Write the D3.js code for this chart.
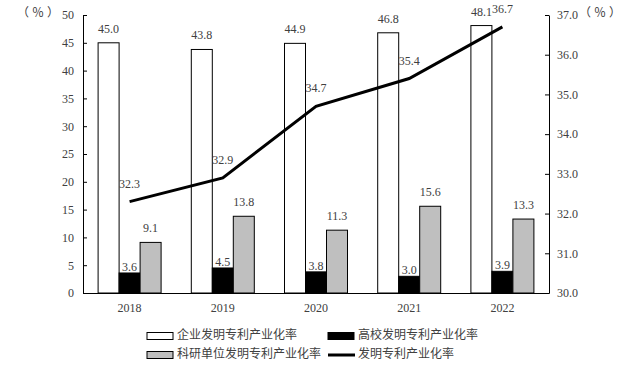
<!DOCTYPE html>
<html>
<head>
<meta charset="utf-8">
<script src="https://cdn.jsdelivr.net/npm/d3@7/dist/d3.min.js"></script>
<style>
  html, body { margin: 0; padding: 0; background: #fff; }
  svg { display: block; }
</style>
</head>
<body>
<svg id="chart"></svg>
<script>
/* ── data ── */
const YEARS      = ['2018', '2019', '2020', '2021', '2022'];
const ENTERPRISE = [45.0, 43.8, 44.9, 46.8, 48.1];
const UNIVERSITY = [3.6, 4.5, 3.8, 3.0, 3.9];
const INSTITUTE  = [9.1, 13.8, 11.3, 15.6, 13.3];
const OVERALL    = [32.3, 32.9, 34.7, 35.4, 36.7];

const LEFT_TICKS  = [0, 5, 10, 15, 20, 25, 30, 35, 40, 45, 50];
const RIGHT_TICKS = [30, 31, 32, 33, 34, 35, 36, 37];

const SERIES_NAMES = ['企业发明专利产业化率', '高校发明专利产业化率',
                      '科研单位发明专利产业化率', '发明专利产业化率'];

const W = 644, H = 376;
const NUM_FONT = '"Liberation Serif", "Times New Roman", serif';
const CJK_FONT = '"Noto Sans CJK SC", sans-serif';
const TXT = '#404040';
const GRAY = '#bfbfbf';

const svg = d3.select('#chart').attr('width', W).attr('height', H);

const plot = { left: 83, right: 549, top: 15, bottom: 293 };

/* ── scales ── */
const x = d3.scaleBand().domain(YEARS).range([plot.left, plot.right]);
const bw = 21;
const yL = d3.scaleLinear().domain([0, 50]).range([plot.bottom, plot.top]);
const yR = d3.scaleLinear().domain([30, 37]).range([plot.bottom, plot.top]);
const cx = d => x(d) + x.bandwidth() / 2;

/* ── axes ── */
svg.append('g')
  .attr('transform', `translate(${plot.left},0)`)
  .call(d3.axisLeft(yL).tickValues(LEFT_TICKS).tickSize(-4).tickSizeOuter(0).tickPadding(9))
  .call(ax => ax.selectAll('.domain,.tick line').attr('stroke', '#000'))
  .call(ax => ax.selectAll('.tick text').attr('fill', TXT).attr('font-size', 12).attr('font-family', NUM_FONT));

svg.append('g')
  .attr('transform', `translate(${plot.right},0)`)
  .call(d3.axisRight(yR).tickValues(RIGHT_TICKS).tickSize(-4).tickSizeOuter(0).tickPadding(8)
    .tickFormat(d3.format('.1f')))
  .call(ax => ax.selectAll('.domain,.tick line').attr('stroke', '#000'))
  .call(ax => ax.selectAll('.tick text').attr('fill', TXT).attr('font-size', 12).attr('font-family', NUM_FONT));

svg.append('g')
  .attr('transform', `translate(0,${plot.bottom})`)
  .call(d3.axisBottom(x).tickSize(0).tickPadding(10))
  .call(ax => ax.select('.domain').attr('stroke', '#000'))
  .call(ax => ax.selectAll('.tick text').attr('fill', TXT).attr('font-size', 12).attr('font-family', NUM_FONT));

/* ── unit labels ── */
[17, 579].forEach(ux => {
  svg.append('text').attr('x', ux).attr('y', 17)
    .attr('font-family', CJK_FONT).attr('font-size', 12).attr('letter-spacing', 3)
    .attr('fill', TXT).text('（％）');
});

/* ── bars ── */
const barSeries = [
  { vals: ENTERPRISE, off: -1.5, fill: '#fff', lab: 10 },
  { vals: UNIVERSITY, off: -0.5, fill: '#000', lab: 2 },
  { vals: INSTITUTE,  off:  0.5, fill: GRAY,   lab: 10 },
];

barSeries.forEach(s => {
  svg.append('g').selectAll('rect')
    .data(YEARS)
    .join('rect')
    .attr('x', d => cx(d) + s.off * bw)
    .attr('y', (d, i) => yL(s.vals[i]))
    .attr('width', bw)
    .attr('height', (d, i) => plot.bottom - yL(s.vals[i]))
    .attr('fill', s.fill)
    .attr('stroke', '#000')
    .attr('stroke-width', 1);
});

barSeries.forEach(s => {
  svg.append('g').selectAll('text')
    .data(YEARS)
    .join('text')
    .attr('x', d => cx(d) + (s.off + 0.5) * bw)
    .attr('y', (d, i) => yL(s.vals[i]) - s.lab)
    .attr('text-anchor', 'middle')
    .attr('font-family', NUM_FONT)
    .attr('font-size', 12)
    .attr('fill', TXT)
    .text((d, i) => s.vals[i].toFixed(1));
});

/* ── overall line ── */
const line = d3.line()
  .x((d, i) => cx(YEARS[i]))
  .y(d => yR(d));

svg.append('path')
  .datum(OVERALL)
  .attr('d', line)
  .attr('fill', 'none')
  .attr('stroke', '#000')
  .attr('stroke-width', 3);

svg.append('g').selectAll('text')
  .data(OVERALL)
  .join('text')
  .attr('x', (d, i) => cx(YEARS[i]))
  .attr('y', d => yR(d) - 14)
  .attr('text-anchor', 'middle')
  .attr('font-family', NUM_FONT)
  .attr('font-size', 12)
  .attr('fill', TXT)
  .text(d => d.toFixed(1));

/* ── legend ── */
const legend = [
  { x: 147, y: 336, kind: 'rect', fill: '#fff' },
  { x: 328, y: 336, kind: 'rect', fill: '#000' },
  { x: 147, y: 355, kind: 'rect', fill: GRAY },
  { x: 328, y: 355, kind: 'line' },
];

legend.forEach((l, i) => {
  if (l.kind === 'rect') {
    svg.append('rect').attr('x', l.x).attr('y', l.y - 3.5).attr('width', 26).attr('height', 7)
      .attr('fill', l.fill).attr('stroke', '#000');
  } else {
    svg.append('line').attr('x1', l.x).attr('x2', l.x + 27).attr('y1', l.y).attr('y2', l.y)
      .attr('stroke', '#000').attr('stroke-width', 3);
  }
  svg.append('text').attr('x', l.x + 30).attr('y', l.y)
    .attr('dominant-baseline', 'middle')
    .attr('font-family', CJK_FONT).attr('font-size', 12).attr('fill', TXT)
    .text(SERIES_NAMES[i]);
});
</script>
</body>
</html>
